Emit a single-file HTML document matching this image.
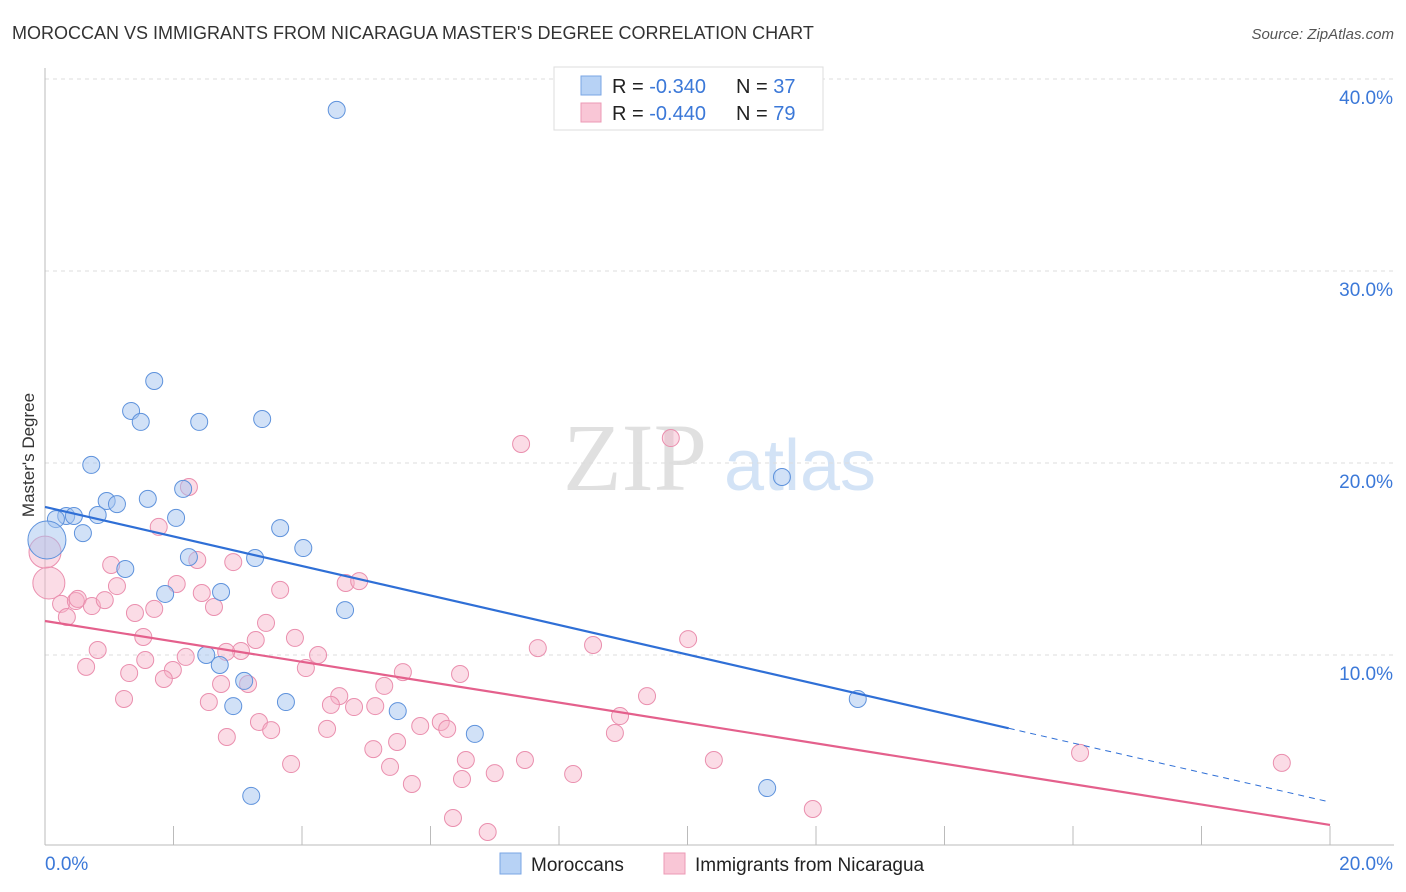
<!DOCTYPE html>
<html><head><meta charset="utf-8"><style>
body{margin:0;background:#fff;font-family:"Liberation Sans",sans-serif;}
svg{display:block}
</style></head><body>
<svg id="c" width="1406" height="892">
<text x="12" y="39" font-size="18" fill="#333">MOROCCAN VS IMMIGRANTS FROM NICARAGUA MASTER'S DEGREE CORRELATION CHART</text>
<text x="1394" y="39" font-size="15" fill="#555" font-style="italic" text-anchor="end">Source: ZipAtlas.com</text>
<text x="635" y="490" font-size="96" fill="#e0e0e0" font-family="Liberation Serif,serif" text-anchor="middle">ZIP</text>
<text x="800" y="490" font-size="72" fill="#d3e3f6" text-anchor="middle">atlas</text>
<text transform="translate(34,455) rotate(-90)" font-size="17" fill="#333" text-anchor="middle">Master's Degree</text>
<g id="grid"></g><g id="pts"></g><g id="lines"></g>
<g>
<rect x="554" y="67" width="269" height="63" fill="#fff" stroke="#ddd"/>
<rect x="581" y="76" width="20" height="19" fill="#b7d2f5" stroke="#7aa6e4"/>
<rect x="581" y="103" width="20" height="19" fill="#f9c6d6" stroke="#ec9ab5"/>
<text x="612" y="93" font-size="20" fill="#222">R = <tspan fill="#3b78d8">-0.340</tspan></text>
<text x="736" y="93" font-size="20" fill="#222">N = <tspan fill="#3b78d8">37</tspan></text>
<text x="612" y="120" font-size="20" fill="#222">R = <tspan fill="#3b78d8">-0.440</tspan></text>
<text x="736" y="120" font-size="20" fill="#222">N = <tspan fill="#3b78d8">79</tspan></text>
</g>
<g>
<rect x="500" y="853" width="21" height="21" fill="#b7d2f5" stroke="#7aa6e4"/>
<text x="531" y="871" font-size="19" fill="#222">Moroccans</text>
<rect x="664" y="853" width="21" height="21" fill="#f9c6d6" stroke="#ec9ab5"/>
<text x="695" y="871" font-size="19" fill="#222">Immigrants from Nicaragua</text>
</g>
</svg>
<script>
const xTicks=[0,20];
const yTicks=[10,20,30,40];
const blueX=[4.54,1.70,1.34,1.49,2.40,3.38,0.72,11.47,2.15,0.96,1.12,1.60,0.33,0.45,0.82,2.04,0.17,0.59,3.66,4.02,2.24,3.27,1.25,1.87,2.74,4.67,2.51,2.72,3.10,2.93,3.75,5.49,6.69,12.65,3.21,11.24,0.03];
const blueY=[38.39,24.27,22.71,22.14,22.14,22.29,19.90,19.27,18.65,18.02,17.86,18.13,17.24,17.24,17.29,17.14,17.08,16.35,16.61,15.57,15.10,15.05,14.48,13.18,13.28,12.34,10.00,9.48,8.65,7.34,7.55,7.08,5.89,7.71,2.66,3.07,15.99];
const pinkX=[7.41,9.74,2.24,1.77,1.03,2.37,2.93,2.05,1.12,0.06,0.0,0.25,0.48,0.51,0.73,0.34,0.93,2.63,1.70,1.40,2.44,3.66,4.68,4.89,3.44,1.53,3.89,3.28,0.82,4.25,3.05,2.82,2.19,1.56,1.99,0.64,1.31,1.85,5.57,6.46,4.06,5.28,2.74,3.16,7.67,8.53,10.01,1.23,2.55,4.58,4.45,4.81,5.14,9.37,8.95,5.84,6.16,6.26,3.33,4.39,3.52,2.83,8.87,5.48,5.11,6.55,7.47,10.41,3.83,5.37,7.00,6.49,8.22,5.71,16.11,19.25,11.95,6.35,6.89];
const pinkY=[20.99,21.30,18.75,16.67,14.69,14.95,14.84,13.70,13.59,13.75,15.36,12.66,12.81,12.92,12.55,11.98,12.86,12.50,12.40,12.19,13.23,13.39,13.75,13.85,11.67,10.94,10.89,10.78,10.26,10.00,10.21,10.16,9.90,9.74,9.22,9.38,9.06,8.75,9.11,9.01,9.32,8.39,8.49,8.49,10.36,10.52,10.83,7.71,7.55,7.86,7.40,7.29,7.34,7.86,6.82,6.30,6.51,6.15,6.51,6.15,6.09,5.73,5.94,5.47,5.10,4.53,4.53,4.53,4.32,4.17,3.85,3.54,3.80,3.28,4.90,4.38,1.98,1.51,0.78];
const blueLine=[17.71,2.34];
const pinkLine=[11.77,1.15];
const X=v=>45+v*64.25, Y=v=>847-v*19.2;
const NS="http://www.w3.org/2000/svg";
function mk(p,t,a){const e=document.createElementNS(NS,t);for(const k in a)e.setAttribute(k,a[k]);p.appendChild(e);return e;}
const grid=document.getElementById('grid');
yTicks.forEach(t=>{
 const l=mk(grid,'line',{x1:45,x2:1394,y1:Y(t),y2:Y(t),stroke:'#ddd','stroke-dasharray':'4,4'});
 
 
 const tx=mk(grid,'text',{x:1393,y:Y(t)+25,'font-size':19,fill:'#3b78d8','text-anchor':'end'});
 tx.textContent=t.toFixed(1)+'%';
 
 
});
mk(grid,'line',{x1:45,x2:45,y1:68,y2:845,stroke:'#bbb'});
mk(grid,'line',{x1:45,x2:1394,y1:845,y2:845,stroke:'#bbb'});
for(let i=0;i<=10;i++){mk(grid,'line',{x1:X(i*2),x2:X(i*2),y1:826,y2:845,stroke:'#bbb'});}
xTicks.forEach((t,i)=>{
 const tx=mk(grid,'text',{x:i?1393:45,y:870,'font-size':19,fill:'#3b78d8','text-anchor':i?'end':'start'});
 tx.textContent=t.toFixed(1)+'%';
 
 
});
const pts=document.getElementById('pts');
pinkX.forEach((x,i)=>{
 const c=mk(pts,'circle',{cx:X(x),cy:Y(pinkY[i]),r:(i==9||i==10)?16:8.5,fill:'rgba(247,178,200,0.45)',stroke:'#ea8fae','stroke-width':1});
 
 
});
blueX.forEach((x,i)=>{
 const c=mk(pts,'circle',{cx:X(x),cy:Y(blueY[i]),r:i==36?19:8.5,fill:'rgba(164,196,240,0.5)',stroke:'#5e92dc','stroke-width':1});
 
 
});
const ln=document.getElementById('lines');
const bAt=x=>blueLine[0]+(blueLine[1]-blueLine[0])*x/20;
let l1=mk(ln,'line',{x1:X(0),y1:Y(bAt(0)),x2:X(15),y2:Y(bAt(15)),stroke:'#2f6fd6','stroke-width':2.2});


let l2=mk(ln,'line',{x1:X(15),y1:Y(bAt(15)),x2:X(20),y2:Y(bAt(20)),stroke:'#2f6fd6','stroke-width':1,'stroke-dasharray':'6,5'});


let l3=mk(ln,'line',{x1:X(0),y1:Y(pinkLine[0]),x2:X(20),y2:Y(pinkLine[1]),stroke:'#e4608c','stroke-width':2.2});


</script>
</body></html>
